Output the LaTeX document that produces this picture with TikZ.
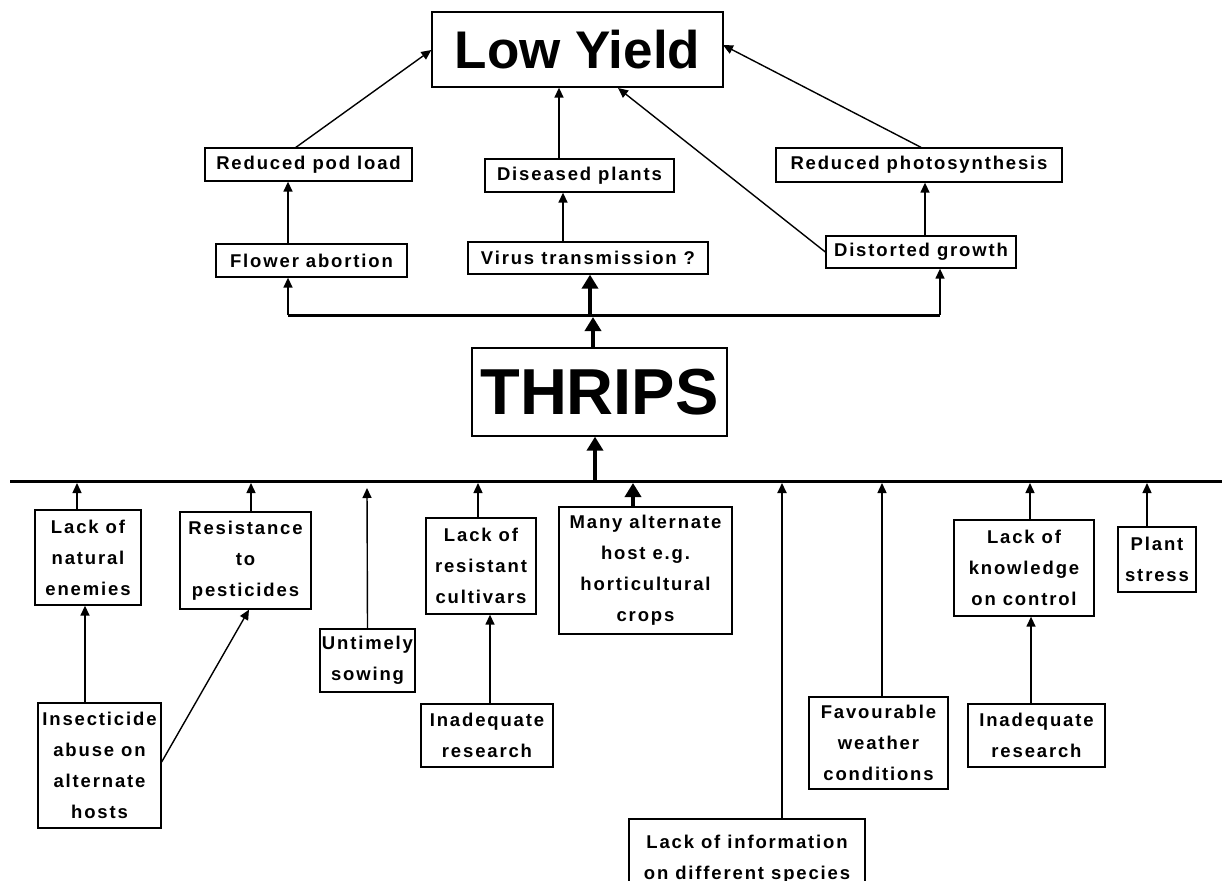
\documentclass[tikz,border=0pt]{standalone}
\usepackage{fontspec}
\usepackage{graphicx}
\usetikzlibrary{arrows.meta}
\newfontfamily\labfont{Liberation Sans}[LetterSpace=10]
\newfontfamily\headfont{Liberation Sans}

\tikzset{
  box/.style={draw, line width=1.3pt, inner sep=0pt, align=center,
    font=\labfont\bfseries\fontsize{18.5}{31}\selectfont},
  headbox/.style={draw, line width=1.3pt, inner sep=0pt, align=center},
  arr/.style={line width=1.4pt, -{Triangle[length=10pt,width=9pt]}},
  thickarr/.style={line width=4pt, -{Triangle[length=14pt,width=16pt]}},
  bar/.style={line width=3pt},
}

\begin{document}
\begin{tikzpicture}[x=1pt, y=-1pt]
\clip (0,0) rectangle (1227,881);
\fill[white] (0,0) rectangle (1227,881);

% effects
\node[headbox, minimum width=291, minimum height=75,
  font=\headfont\bfseries\fontsize{53}{60}\selectfont] (ly) at (577.5,49.5) {Low Yield};
\node[box, minimum width=207, minimum height=33] (rpl) at (308.5,164.5) {Reduced pod load};
\node[box, minimum width=189, minimum height=33] (dp) at (579.5,175.5) {Diseased plants};
\node[box, minimum width=286, minimum height=34] (rps) at (919,165) {Reduced photosynthesis};
\node[box, minimum width=191, minimum height=33] (fa) at (311.5,260.5) {Flower abortion};
\node[box, minimum width=240, minimum height=32] (vt) at (588,258) {Virus transmission ?};
\node[box, minimum width=190, minimum height=32] (dg) at (921,252) {Distorted growth};

% pest
\node[headbox, minimum width=255, minimum height=88,
  font=\headfont\bfseries\fontsize{65}{70}\selectfont] (th) at (599.5,392) {THRIPS};

% causes
\node[box, minimum width=106, minimum height=95] (lne) at (88,557.5) {Lack of\\natural\\enemies};
\node[box, minimum width=131, minimum height=97] (rtp) at (245.5,560.5) {Resistance\\to\\pesticides};
\node[box, minimum width=95, minimum height=63] (us) at (367.5,660.5) {Untimely\\sowing};
\node[box, minimum width=110, minimum height=96] (lrc) at (481,566) {Lack of\\resistant\\cultivars};
\node[box, minimum width=173, minimum height=127] (mah) at (645.5,570.5) {Many alternate\\host e.g.\\horticultural\\crops};
\node[box, minimum width=236, minimum height=80] (lis) at (747,859) {Lack of information\\on different species};
\node[box, minimum width=139, minimum height=92] (fwc) at (878.5,743) {Favourable\\weather\\conditions};
\node[box, minimum width=140, minimum height=96] (lkc) at (1024,568) {Lack of\\knowledge\\on control};
\node[box, minimum width=78, minimum height=65] (ps) at (1157,559.5) {Plant\\stress};
\node[box, minimum width=123, minimum height=125] (iaa) at (99.5,765.5) {Insecticide\\abuse on\\alternate\\hosts};
\node[box, minimum width=132, minimum height=63] (ir1) at (487,735.5) {Inadequate\\research};
\node[box, minimum width=137, minimum height=63] (ir2) at (1036.5,735.5) {Inadequate\\research};

% distribution bars
\coordinate (tl) at (288,315);
\coordinate (tr) at (940,315);
\coordinate (ml) at (10,481);
\coordinate (mr) at (1222,481);
\draw[bar] (tl) -- (tr);
\draw[bar] (ml) -- (mr);

% upper chain
\draw[arr] (295,148) -- (ly.west |- 0,50);
\draw[arr] (dp.north -| 559,0) -- (ly.south -| 559,0);
\draw[arr] (dg.west) -- (618,88);
\draw[arr] (rps.north -| 921,0) -- (723,45);
\draw[arr] (fa.north -| 288,0) -- (rpl.south -| 288,0);
\draw[arr] (vt.north -| 563,0) -- (dp.south -| 563,0);
\draw[arr] (dg.north -| 925,0) -- (rps.south -| 925,0);
\draw[arr] (tl) -- (fa.south -| tl);
\draw[thickarr] (590,316) -- (vt.south -| 590,0);
\draw[arr] (tr) -- (dg.south -| tr);
\draw[thickarr] (th.north -| 593,0) -- (593,317);
\draw[thickarr] (595,482) -- (th.south -| 595,0);

% lower chain
\draw[arr] (lne.north -| 77,0) -- (77,483);
\draw[arr] (rtp.north -| 251,0) -- (251,483);
\draw[arr] (us.north) -- (367,488);
\draw[arr] (lrc.north -| 478,0) -- (478,483);
\draw[thickarr] (mah.north -| 633,0) -- (633,483);
\draw[arr, line width=2pt] (lis.north -| 782,0) -- (782,483);
\draw[arr] (fwc.north -| 882,0) -- (882,483);
\draw[arr] (lkc.north -| 1030,0) -- (1030,483);
\draw[arr] (ps.north -| 1147,0) -- (1147,483);
\draw[arr] (iaa.north -| 85,0) -- (lne.south -| 85,0);
\draw[arr] (iaa.east |- 0,762) -- (rtp.south -| 249,0);
\draw[arr] (ir1.north -| 490,0) -- (lrc.south -| 490,0);
\draw[arr] (ir2.north -| 1031,0) -- (lkc.south -| 1031,0);
\end{tikzpicture}
\end{document}
